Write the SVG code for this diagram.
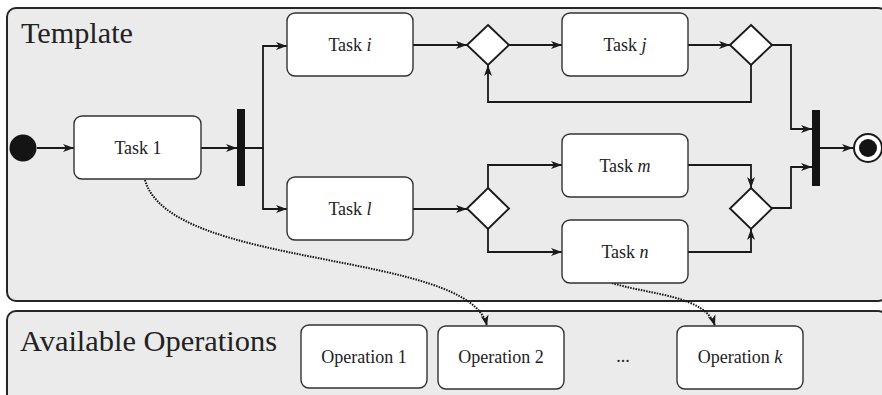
<svg xmlns="http://www.w3.org/2000/svg" width="882" height="395" viewBox="0 0 882 395">
  <defs>
    <marker id="arr" markerUnits="userSpaceOnUse" markerWidth="13" markerHeight="10" refX="11" refY="5" orient="auto">
      <path d="M0,1 L11,5 L0,9 L3,5 z" fill="#1a1a1a"/>
    </marker>
    <style>
      .panel { fill: #ebebeb; stroke: #262626; stroke-width: 2; }
      .node { fill: #ffffff; stroke: #333333; stroke-width: 1.4; }
      .dia { fill: #ffffff; stroke: #1a1a1a; stroke-width: 1.9; }
      .bar { fill: #141414; }
      .lbl { font-size: 18px; fill: #222222; text-anchor: middle; }
      .title { font-size: 29px; fill: #222222; }
      .flow { fill: none; stroke: #1a1a1a; stroke-width: 1.8; marker-end: url(#arr); }
      .dot { fill: none; stroke: #111111; stroke-width: 2; stroke-dasharray: 1.5 1.2; marker-end: url(#arr); }
    </style>
  </defs>

  <!-- panels -->
  <g id="template-panel">
    <rect class="panel" x="7" y="8" width="880" height="293" rx="9"/>
    <text class="title" font-family="Liberation Serif, DejaVu Serif, serif" x="21" y="43" textLength="112" lengthAdjust="spacingAndGlyphs">Template</text>
  </g>
  <g id="operations-panel">
    <rect class="panel" x="7" y="311" width="880" height="92" rx="9"/>
    <text class="title" font-family="Liberation Serif, DejaVu Serif, serif" x="20" y="351" textLength="257" lengthAdjust="spacingAndGlyphs">Available Operations</text>
  </g>

  <!-- connectors -->
  <g id="connectors">
    <path class="flow" d="M37,148 H74"/>
    <path class="flow" d="M201,148 H237"/>
    <path class="flow" d="M245,148 H263 V46 H287"/>
    <path class="flow" d="M263,148 V209 H287"/>
    <path class="flow" d="M413,45 H467"/>
    <path class="flow" d="M509,45 H562"/>
    <path class="flow" d="M688,45 H730"/>
    <path class="flow" d="M751,65 V102 H488 V65"/>
    <path class="flow" d="M772,45 H791 V129 H812"/>
    <path class="flow" d="M413,209 H467"/>
    <path class="flow" d="M488,188 V165 H562"/>
    <path class="flow" d="M488,229 V252 H562"/>
    <path class="flow" d="M688,165 H751 V188"/>
    <path class="flow" d="M688,252 H751 V229"/>
    <path class="flow" d="M772,208 H791 V167 H812"/>
    <path class="flow" d="M820,148 H853"/>
    <path class="dot" d="M145,180 C170,270 470,250 487,326"/>
    <path class="dot" d="M612,283 C650,295 705,295 715,326"/>
  </g>

  <!-- nodes -->
  <g id="start">
    <circle cx="23" cy="148" r="13.5" fill="#141414"/>
  </g>
  <g id="task-1">
    <rect class="node" x="74" y="116" width="127" height="63" rx="8"/>
    <text class="lbl" font-family="Liberation Serif, DejaVu Serif, serif" x="138" y="154">Task 1</text>
  </g>
  <g id="fork">
    <rect class="bar" x="237" y="109" width="8" height="77"/>
  </g>
  <g id="task-i">
    <rect class="node" x="287" y="13" width="126" height="63" rx="8"/>
    <text class="lbl" font-family="Liberation Serif, DejaVu Serif, serif" x="350" y="51">Task <tspan font-style="italic">i</tspan></text>
  </g>
  <g id="decision-1">
    <polygon class="dia" points="488,25 509,45 488,65 467,45"/>
  </g>
  <g id="task-j">
    <rect class="node" x="562" y="13" width="126" height="63" rx="8"/>
    <text class="lbl" font-family="Liberation Serif, DejaVu Serif, serif" x="625" y="51">Task <tspan font-style="italic">j</tspan></text>
  </g>
  <g id="decision-2">
    <polygon class="dia" points="751,25 772,45 751,65 730,45"/>
  </g>
  <g id="task-l">
    <rect class="node" x="287" y="177" width="126" height="63" rx="8"/>
    <text class="lbl" font-family="Liberation Serif, DejaVu Serif, serif" x="350" y="215">Task <tspan font-style="italic">l</tspan></text>
  </g>
  <g id="decision-3">
    <polygon class="dia" points="488,188 509,208.5 488,229 467,208.5"/>
  </g>
  <g id="task-m">
    <rect class="node" x="562" y="134" width="126" height="63" rx="8"/>
    <text class="lbl" font-family="Liberation Serif, DejaVu Serif, serif" x="625" y="171.5">Task <tspan font-style="italic">m</tspan></text>
  </g>
  <g id="task-n">
    <rect class="node" x="562" y="220" width="126" height="63" rx="8"/>
    <text class="lbl" font-family="Liberation Serif, DejaVu Serif, serif" x="625" y="257.5">Task <tspan font-style="italic">n</tspan></text>
  </g>
  <g id="decision-4">
    <polygon class="dia" points="751,188 772,208.5 751,229 730,208.5"/>
  </g>
  <g id="join">
    <rect class="bar" x="812" y="110" width="8" height="76"/>
  </g>
  <g id="end">
    <circle cx="868" cy="148" r="14" fill="#ffffff" stroke="#1a1a1a" stroke-width="2"/>
    <circle cx="868" cy="148" r="9" fill="#141414"/>
  </g>

  <g id="operation-1">
    <rect class="node" x="301" y="325" width="126" height="63" rx="8"/>
    <text class="lbl" font-family="Liberation Serif, DejaVu Serif, serif" x="364" y="363">Operation 1</text>
  </g>
  <g id="operation-2">
    <rect class="node" x="438" y="326" width="126" height="63" rx="8"/>
    <text class="lbl" font-family="Liberation Serif, DejaVu Serif, serif" x="501" y="363">Operation 2</text>
  </g>
  <g id="ellipsis">
    <text class="lbl" font-family="Liberation Serif, DejaVu Serif, serif" x="623" y="362" font-size="14">...</text>
  </g>
  <g id="operation-k">
    <rect class="node" x="677" y="326" width="126" height="63" rx="8"/>
    <text class="lbl" font-family="Liberation Serif, DejaVu Serif, serif" x="740" y="363">Operation <tspan font-style="italic">k</tspan></text>
  </g>
</svg>
